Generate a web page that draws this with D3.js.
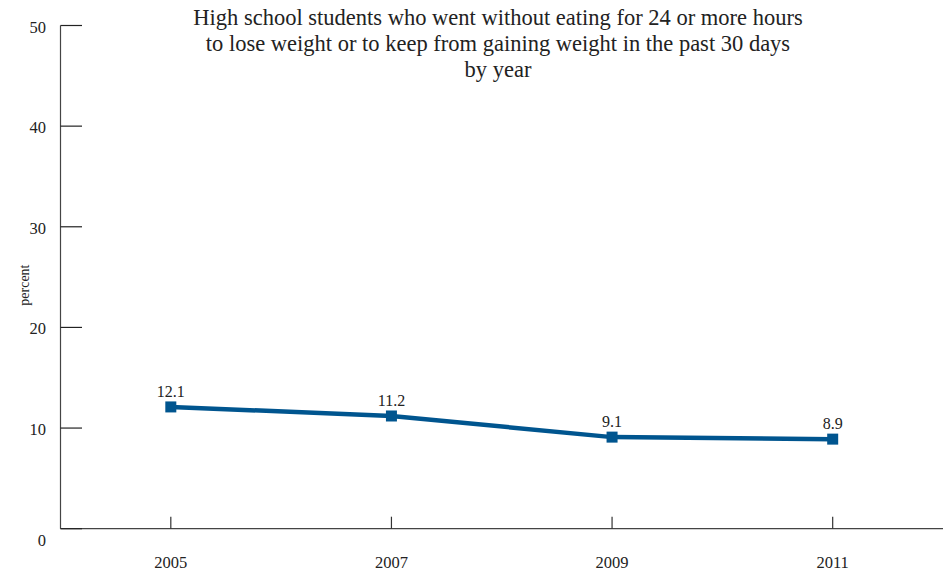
<!DOCTYPE html>
<html><head><meta charset="utf-8">
<script src="https://cdn.jsdelivr.net/npm/d3@7"></script>
<style>body{margin:0;background:#fff}text{font-family:"Liberation Serif","DejaVu Serif",serif;fill:#222}</style>
</head><body><svg id="c" width="952" height="573"></svg>
<script>
const titleLines = ["High school students who went without eating for 24 or more hours","to lose weight or to keep from gaining weight in the past 30 days","by year"];
const years = [2005, 2007, 2009, 2011];
const values = [12.1, 11.2, 9.1, 8.9];
const yTicks = [0, 10, 20, 30, 40, 50];
const yLabel = "percent";

const svg = d3.select("#c");
const x = d3.scaleLinear().domain([2004, 2012]).range([60.5, 943]);
const y = d3.scaleLinear().domain([0, 50]).range([528.7, 25.5]);
const axisColor = "#444";
const lineColor = "#00558f";

svg.append("line").attr("x1", 60.5).attr("x2", 60.5).attr("y1", y(50)).attr("y2", y(0)).attr("stroke", axisColor).attr("stroke-width", 1.2);
svg.append("line").attr("x1", 60.5).attr("x2", 943).attr("y1", y(0)).attr("y2", y(0)).attr("stroke", axisColor).attr("stroke-width", 1.2);

svg.selectAll(".yt").data(yTicks).join("line").attr("x1", 60.5).attr("x2", 82).attr("y1", d => y(d)).attr("y2", d => y(d)).attr("stroke", "#222").attr("stroke-width", 1.2);
svg.selectAll(".yl").data(yTicks).join("text").attr("x", 46).attr("y", d => y(d) + (d === 0 ? 17 : 7)).attr("text-anchor", "end").attr("font-size", 16.5).text(d => d);

svg.selectAll(".xt").data(years).join("line").attr("x1", d => x(d)).attr("x2", d => x(d)).attr("y1", y(0) - 12).attr("y2", y(0)).attr("stroke", "#333").attr("stroke-width", 1.2);
svg.selectAll(".xl").data(years).join("text").attr("x", d => x(d)).attr("y", 568).attr("text-anchor", "middle").attr("font-size", 16.5).text(d => d);

svg.append("text").attr("transform", `translate(29,${(y(50)+y(0))/2 + 8}) rotate(-90)`).attr("text-anchor", "middle").attr("font-size", 14).text(yLabel);

svg.selectAll(".tt").data(titleLines).join("text").attr("x", 498).attr("y", (d, i) => 25 + i * 26).attr("text-anchor", "middle").attr("font-size", 22.5).text(d => d);

const pts = years.map((d, i) => [d, values[i]]);
svg.append("path").datum(pts).attr("fill", "none").attr("stroke", lineColor).attr("stroke-width", 4.5)
  .attr("d", d3.line().x(d => x(d[0])).y(d => y(d[1])));
svg.selectAll(".m").data(pts).join("rect").attr("x", d => x(d[0]) - 5.5).attr("y", d => y(d[1]) - 5.5).attr("width", 11).attr("height", 11).attr("fill", lineColor);
svg.selectAll(".dl").data(pts).join("text").attr("x", d => x(d[0])).attr("y", d => y(d[1]) - 10).attr("text-anchor", "middle").attr("font-size", 16).text(d => d[1].toFixed(1));
</script></body></html>
